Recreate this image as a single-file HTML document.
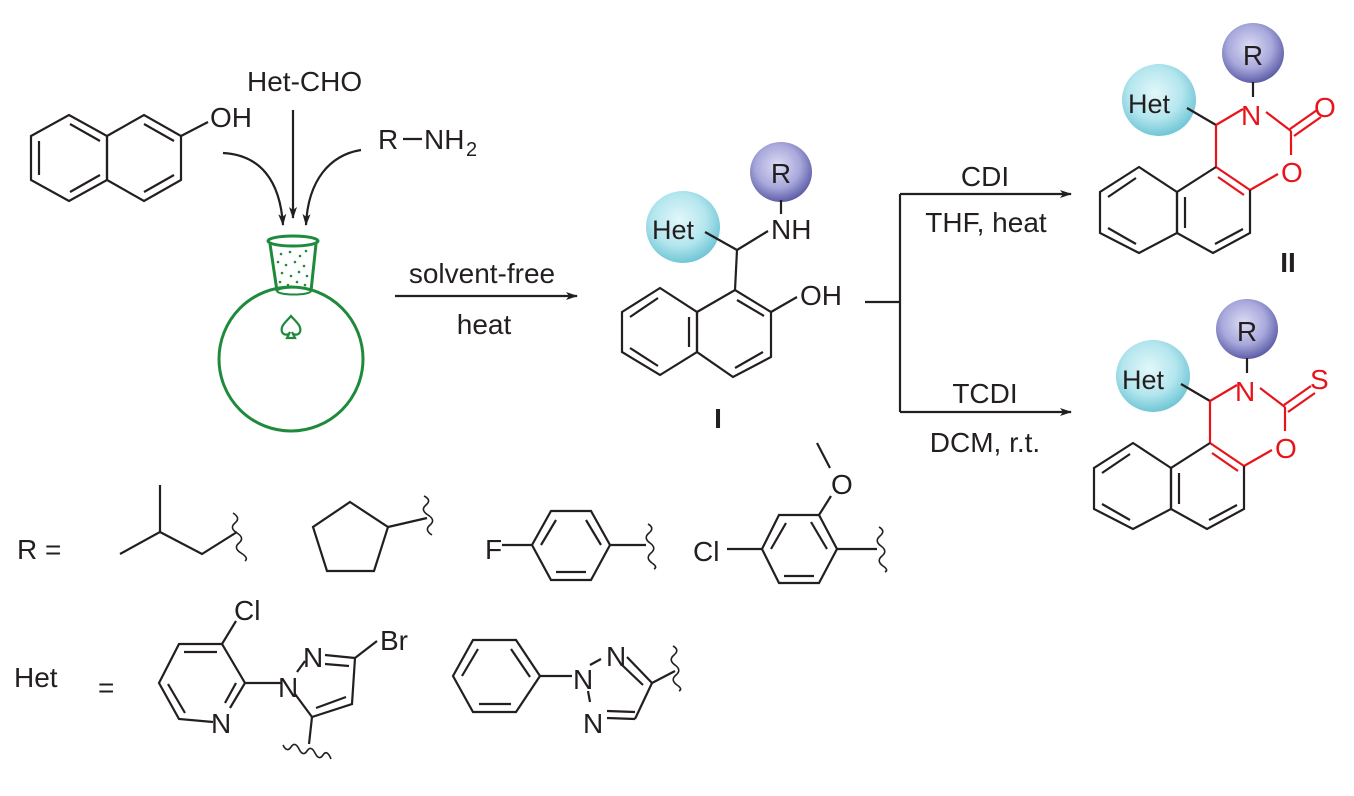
<!DOCTYPE html>
<html><head><meta charset="utf-8"><style>
html,body{margin:0;padding:0;background:#fff}
svg{display:block}
text{font-family:"Liberation Sans",Arial,sans-serif;font-size:28px;fill:#231f20}
.k{stroke:#231f20;stroke-width:2.2;fill:none}
.r{stroke:#e8141c;stroke-width:2.2;fill:none}
.g{stroke:#1e8a3c;stroke-width:3;fill:none}
.het{font-size:27px}
</style></head><body>
<svg width="1354" height="796" viewBox="0 0 1354 796" xmlns="http://www.w3.org/2000/svg">
<defs>
<radialGradient id="cy" cx="45%" cy="40%" r="60%"><stop offset="0" stop-color="#e2f7fa"/><stop offset="0.6" stop-color="#b4e6ee"/><stop offset="1" stop-color="#72c6d6"/></radialGradient>
<radialGradient id="pu" cx="45%" cy="40%" r="60%"><stop offset="0" stop-color="#dcdcf4"/><stop offset="0.6" stop-color="#a8a8dc"/><stop offset="1" stop-color="#5e5ea8"/></radialGradient>
<marker id="ah" markerWidth="12" markerHeight="8" refX="11" refY="4" orient="auto" markerUnits="userSpaceOnUse"><path d="M0,0 L12,4 L0,8 L3,4 z" fill="#231f20"/></marker>
</defs>

<!-- 2-naphthol -->
<g class="k">
<polygon points="31,136 69,115 107,136 107,180 69,201 31,180"/>
<polygon points="107,136 144,115 181,136 181,180 144,201 107,180"/>
<line x1="39" y1="141" x2="39" y2="175"/><line x1="70" y1="124" x2="100" y2="141"/><line x1="70" y1="192" x2="100" y2="175"/>
<line x1="144" y1="124" x2="174" y2="141"/><line x1="144" y1="192" x2="174" y2="175"/>
<line x1="181" y1="136" x2="208" y2="122"/>
</g>
<text x="210" y="127">OH</text>
<text x="247" y="91">Het-CHO</text>
<text x="378" y="149">R</text>
<line class="k" x1="403" y1="139" x2="422" y2="139"/>
<text x="424" y="149">NH</text><text x="466" y="156" style="font-size:20px">2</text>

<!-- arrows into flask -->
<g class="k">
<line x1="293" y1="110" x2="293" y2="218" marker-end="url(#ah)"/>
<path d="M223,153 C260,155 280,180 283,225" marker-end="url(#ah)"/>
<path d="M361,150 C330,155 308,180 306,225" marker-end="url(#ah)"/>
</g>

<!-- flask -->
<circle class="g" cx="291" cy="359" r="72"/>
<ellipse class="g" cx="293" cy="241" rx="25" ry="5"/>
<path class="g" d="M270,244 L277,291 M316,244 L311,291"/>
<ellipse cx="294" cy="291" rx="17" ry="3.5" fill="none" stroke="#1e8a3c" stroke-width="2"/>
<g fill="#1e8a3c">
<circle cx="281" cy="254" r="1.3"/><circle cx="290" cy="252" r="1.3"/><circle cx="300" cy="256" r="1.3"/><circle cx="306" cy="251" r="1.3"/>
<circle cx="278" cy="262" r="1.3"/><circle cx="286" cy="265" r="1.3"/><circle cx="295" cy="262" r="1.3"/><circle cx="304" cy="266" r="1.3"/>
<circle cx="282" cy="273" r="1.3"/><circle cx="291" cy="276" r="1.3"/><circle cx="299" cy="272" r="1.3"/><circle cx="307" cy="276" r="1.3"/>
<circle cx="280" cy="282" r="1.3"/><circle cx="288" cy="285" r="1.3"/><circle cx="297" cy="282" r="1.3"/><circle cx="305" cy="285" r="1.3"/>
</g>
<path d="M291,316 C286,322 280,326 282,332 C284,336 289,335 290,332 L287,338 L295,338 L292,332 C293,335 298,336 300,332 C302,326 296,322 291,316 z" fill="none" stroke="#1e8a3c" stroke-width="2.2"/>

<!-- solvent-free arrow -->
<line class="k" x1="395" y1="296" x2="577" y2="296" marker-end="url(#ah)"/>
<text x="482" y="283" text-anchor="middle">solvent-free</text>
<text x="484" y="334" text-anchor="middle">heat</text>

<!-- compound I -->
<ellipse cx="683" cy="227" rx="37" ry="36" fill="url(#cy)"/>
<ellipse cx="781" cy="172" rx="31" ry="30" fill="url(#pu)"/>
<text x="781" y="183" text-anchor="middle">R</text>
<text x="652" y="239" class="het">Het</text>
<text x="771" y="239">NH</text>
<g class="k">
<line x1="781" y1="200" x2="781" y2="214"/>
<line x1="705" y1="232" x2="737" y2="250"/><line x1="737" y1="250" x2="768" y2="231"/>
<line x1="737" y1="250" x2="735" y2="290"/>
<polygon points="622,312 660,288 697,312 697,352 660,375 622,352"/>
<polygon points="697,312 735,290 771,312 771,357 733,377 697,352"/>
<line x1="630" y1="317" x2="658" y2="298"/><line x1="630" y1="348" x2="658" y2="366"/><line x1="689" y1="317" x2="689" y2="347"/>
<line x1="737" y1="300" x2="764" y2="316"/><line x1="735" y1="368" x2="763" y2="352"/>
<line x1="771" y1="312" x2="797" y2="297"/>
</g>
<text x="800" y="305">OH</text>
<text x="718" y="428" text-anchor="middle" style="font-weight:bold">I</text>

<!-- branch arrows -->
<g class="k">
<polyline points="865,302 900,302"/>
<line x1="900" y1="194" x2="900" y2="412"/>
<line x1="900" y1="194" x2="1071" y2="194" marker-end="url(#ah)"/>
<line x1="900" y1="412" x2="1071" y2="412" marker-end="url(#ah)"/>
</g>
<text x="985" y="186" text-anchor="middle">CDI</text>
<text x="986" y="232" text-anchor="middle">THF,  heat</text>
<text x="985" y="403" text-anchor="middle">TCDI</text>
<text x="985" y="452" text-anchor="middle">DCM, r.t.</text>

<!-- product II -->
<g id="p2">
<ellipse cx="1159" cy="100" rx="37" ry="36" fill="url(#cy)"/>
<ellipse cx="1253" cy="53" rx="31" ry="30" fill="url(#pu)"/>
<text x="1253" y="65" text-anchor="middle">R</text>
<text x="1128" y="113" class="het">Het</text>
<line class="k" x1="1253" y1="82" x2="1253" y2="97"/>
<line class="k" x1="1187" y1="108" x2="1216" y2="125"/>
<g class="r">
<line x1="1216" y1="125" x2="1243" y2="109"/>
<line x1="1266" y1="112" x2="1291" y2="131"/>
<line x1="1291" y1="131" x2="1291" y2="155"/>
<line x1="1216" y1="125" x2="1216" y2="167"/>
<line x1="1216" y1="167" x2="1250" y2="190"/><line x1="1218" y1="177" x2="1244" y2="195"/>
<line x1="1250" y1="190" x2="1278" y2="174"/>
</g>
<g class="k">
<polyline points="1250,190 1250,233 1213,253 1177,233 1177,192 1216,167"/>
<line x1="1243" y1="229" x2="1215" y2="244"/>
<polygon points="1177,192 1139,167 1100,192 1100,233 1139,253 1177,233"/>
<line x1="1185" y1="197" x2="1185" y2="228"/><line x1="1108" y1="197" x2="1136" y2="178"/><line x1="1108" y1="228" x2="1136" y2="244"/>
</g>
</g>
<text x="1241" y="125" style="fill:#e8141c">N</text>
<line class="r" x1="1290" y1="129" x2="1317" y2="110"/><line class="r" x1="1294" y1="136" x2="1321" y2="117"/>
<text x="1314" y="117" style="fill:#e8141c">O</text>
<text x="1281" y="182" style="fill:#e8141c">O</text>
<text x="1288" y="272" text-anchor="middle" style="font-weight:bold">II</text>

<!-- product III -->
<g transform="translate(-6,276)">
<use href="#p2"/>
<text x="1241" y="125" style="fill:#e8141c">N</text>
<line class="r" x1="1290" y1="129" x2="1317" y2="110"/><line class="r" x1="1294" y1="136" x2="1321" y2="117"/>
<text x="1316" y="113" style="fill:#e8141c">S</text>
<text x="1281" y="182" style="fill:#e8141c">O</text>
</g>

<!-- R = -->
<text x="17" y="559">R =</text>
<g class="k">
<polyline points="120,554 160,532 160,485"/><polyline points="160,532 202,554 237,532"/>
<path d="M233,513 q8,5 2,10 q-6,5 2,10 q8,5 2,10 q-6,5 2,10 q8,5 4,8" stroke-width="1.6"/>
<polygon points="350,502 388,527 374,571 327,571 313,527"/>
<line x1="388" y1="527" x2="427" y2="518"/>
<path d="M424,496 q8,4 2,9 q-6,5 2,10 q8,5 2,10 q-6,5 2,10" stroke-width="1.6"/>
<polygon points="551,511 591,511 610,545 591,580 551,580 532,545"/>
<line x1="586" y1="520" x2="601" y2="545"/><line x1="556" y1="572" x2="586" y2="572"/><line x1="541" y1="545" x2="556" y2="520"/>
<line x1="502" y1="545" x2="532" y2="545"/><line x1="610" y1="545" x2="646" y2="545"/>
<path d="M648,524 q7,4 1,9 q-6,5 1,10 q7,5 1,10 q-6,5 1,10 q6,4 2,6" stroke-width="1.6"/>
<polygon points="779,515 819,515 837,549 819,583 779,583 762,549"/>
<line x1="811" y1="522" x2="827" y2="549"/><line x1="784" y1="576" x2="814" y2="576"/><line x1="771" y1="549" x2="786" y2="523"/>
<line x1="727" y1="549" x2="762" y2="549"/><line x1="837" y1="549" x2="877" y2="549"/>
<line x1="819" y1="515" x2="831" y2="496"/><line x1="817" y1="443" x2="830" y2="468"/>
<path d="M879,527 q7,4 1,9 q-6,5 1,10 q7,5 1,10 q-6,5 1,10 q6,4 2,6" stroke-width="1.6"/>
</g>
<text x="485" y="559">F</text>
<text x="693" y="561">Cl</text>
<text x="831" y="494">O</text>

<!-- Het = -->
<text x="14" y="687">Het</text>
<text x="98" y="697">=</text>
<g class="k">
<polyline points="213,722 179,719 159,683 179,644 222,644 245,683 230,708"/>
<line x1="184" y1="652" x2="217" y2="652"/><line x1="168" y1="684" x2="185" y2="713"/><line x1="236" y1="683" x2="225" y2="703"/>
<line x1="222" y1="644" x2="236" y2="621"/>
<line x1="245" y1="683" x2="281" y2="683"/>
<line x1="297" y1="672" x2="305" y2="661"/>
<line x1="325" y1="655" x2="355" y2="658"/><line x1="325" y1="664" x2="349" y2="666"/>
<polyline points="355,658 352,704 312,717 295,694"/>
<line x1="346" y1="697" x2="316" y2="708"/>
<line x1="355" y1="658" x2="377" y2="641"/>
<line x1="312" y1="717" x2="309" y2="744"/>
<path d="M283,745 q4,8 8,2 q4,-6 8,2 q4,8 8,2 q4,-6 8,2 q4,8 8,2 q4,-6 8,4" stroke-width="1.6"/>
<polygon points="473,640 516,640 540,676 516,712 473,712 453,676"/>
<line x1="511" y1="649" x2="530" y2="677"/><line x1="479" y1="704" x2="511" y2="704"/><line x1="462" y1="676" x2="478" y2="649"/>
<line x1="540" y1="676" x2="572" y2="676"/>
<line x1="590" y1="665" x2="601" y2="659"/>
<line x1="588" y1="691" x2="590" y2="702"/>
<line x1="627" y1="657" x2="652" y2="683"/><line x1="622" y1="665" x2="643" y2="685"/>
<line x1="652" y1="683" x2="635" y2="719"/><line x1="635" y1="719" x2="607" y2="718"/><line x1="635" y1="712" x2="607" y2="711"/>
<line x1="652" y1="683" x2="675" y2="671"/>
<path d="M673,646 q7,4 1,9 q-6,5 1,10 q7,5 1,10 q-6,5 1,10 q6,4 2,6" stroke-width="1.6"/>
</g>
<text x="234" y="620">Cl</text>
<text x="211" y="733">N</text>
<text x="278" y="697">N</text>
<text x="303" y="667">N</text>
<text x="380" y="650">Br</text>
<text x="573" y="689">N</text>
<text x="606" y="666">N</text>
<text x="583" y="733">N</text>
</svg>
</body></html>
